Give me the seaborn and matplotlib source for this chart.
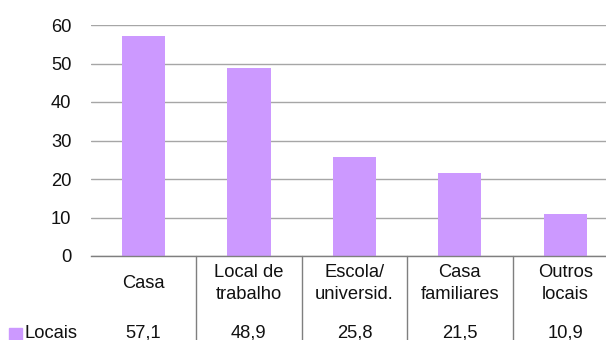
import matplotlib
matplotlib.use("Agg")
import matplotlib.pyplot as plt
from matplotlib.patches import Rectangle
import seaborn as sns
import pandas as pd

categories = ["Casa", "Local de\ntrabalho", "Escola/\nuniversid.", "Casa\nfamiliares", "Outros\nlocais"]
values = [57.1, 48.9, 25.8, 21.5, 10.9]
series_name = "Locais"
y_ticks = [0, 10, 20, 30, 40, 50, 60]

sns.set_theme(style="white")
plt.rcParams["font.family"] = ["Liberation Sans", "DejaVu Sans"]

W, H = 606, 340
FS = 13.2
fig = plt.figure(figsize=(W / 100, H / 100), dpi=100)

# axes placed in pixel terms
left_px, right_px, top_px, bottom_px = 90.75, 618, 25, 256
ax = fig.add_axes([left_px / W, (H - bottom_px) / H,
                   (right_px - left_px) / W, (bottom_px - top_px) / H])

df = pd.DataFrame({"cat": categories, "val": values})
bar_color = "#CC99FF"
sns.barplot(data=df, x="cat", y="val", color=bar_color, saturation=1,
            width=0.41, linewidth=0, ax=ax, zorder=3)

ax.set_xlim(-0.5, len(categories) - 0.5)
ax.set_ylim(0, 60)
ax.set_yticks(y_ticks)
ax.set_xticks([])
ax.set_xlabel("")
ax.set_ylabel("")
ax.grid(axis="y", color="#A6A6A6", lw=1.0, zorder=0)
ax.tick_params(axis="y", length=0, pad=14, labelsize=FS, labelcolor="#111111")
for s in ["top", "right", "left"]:
    ax.spines[s].set_visible(False)
ax.spines["bottom"].set_color("#7F7F7F")
ax.spines["bottom"].set_linewidth(1.0)
ax.spines["bottom"].set_zorder(4)

# data table under the axis
axh = bottom_px - top_px
def yfrac(py):
    return (bottom_px - py) / axh

trans = ax.get_xaxis_transform()
for i, (c, v) in enumerate(zip(categories, values)):
    ax.text(i, yfrac(283.5), c, transform=trans, ha="center", va="center",
            fontsize=FS, color="#111111", linespacing=1.37, clip_on=False)
    ax.text(i, yfrac(332.5), f"{v:.1f}".replace(".", ","), transform=trans,
            ha="center", va="center", fontsize=FS, color="#111111", clip_on=False)
for i in range(len(categories) - 1):
    ax.plot([i + 0.5, i + 0.5], [0, yfrac(H + 2)], transform=trans,
            color="#7F7F7F", lw=1.0, clip_on=False, zorder=4)

# legend key in the table row
fig.patches.append(Rectangle((9 / W, (H - 340) / H), 13 / W, 12.5 / H,
                             transform=fig.transFigure, color=bar_color))
fig.text(24 / W, (H - 333) / H, series_name, ha="left", va="center",
         fontsize=FS, color="#111111")

fig.savefig("out.png", dpi=100)
